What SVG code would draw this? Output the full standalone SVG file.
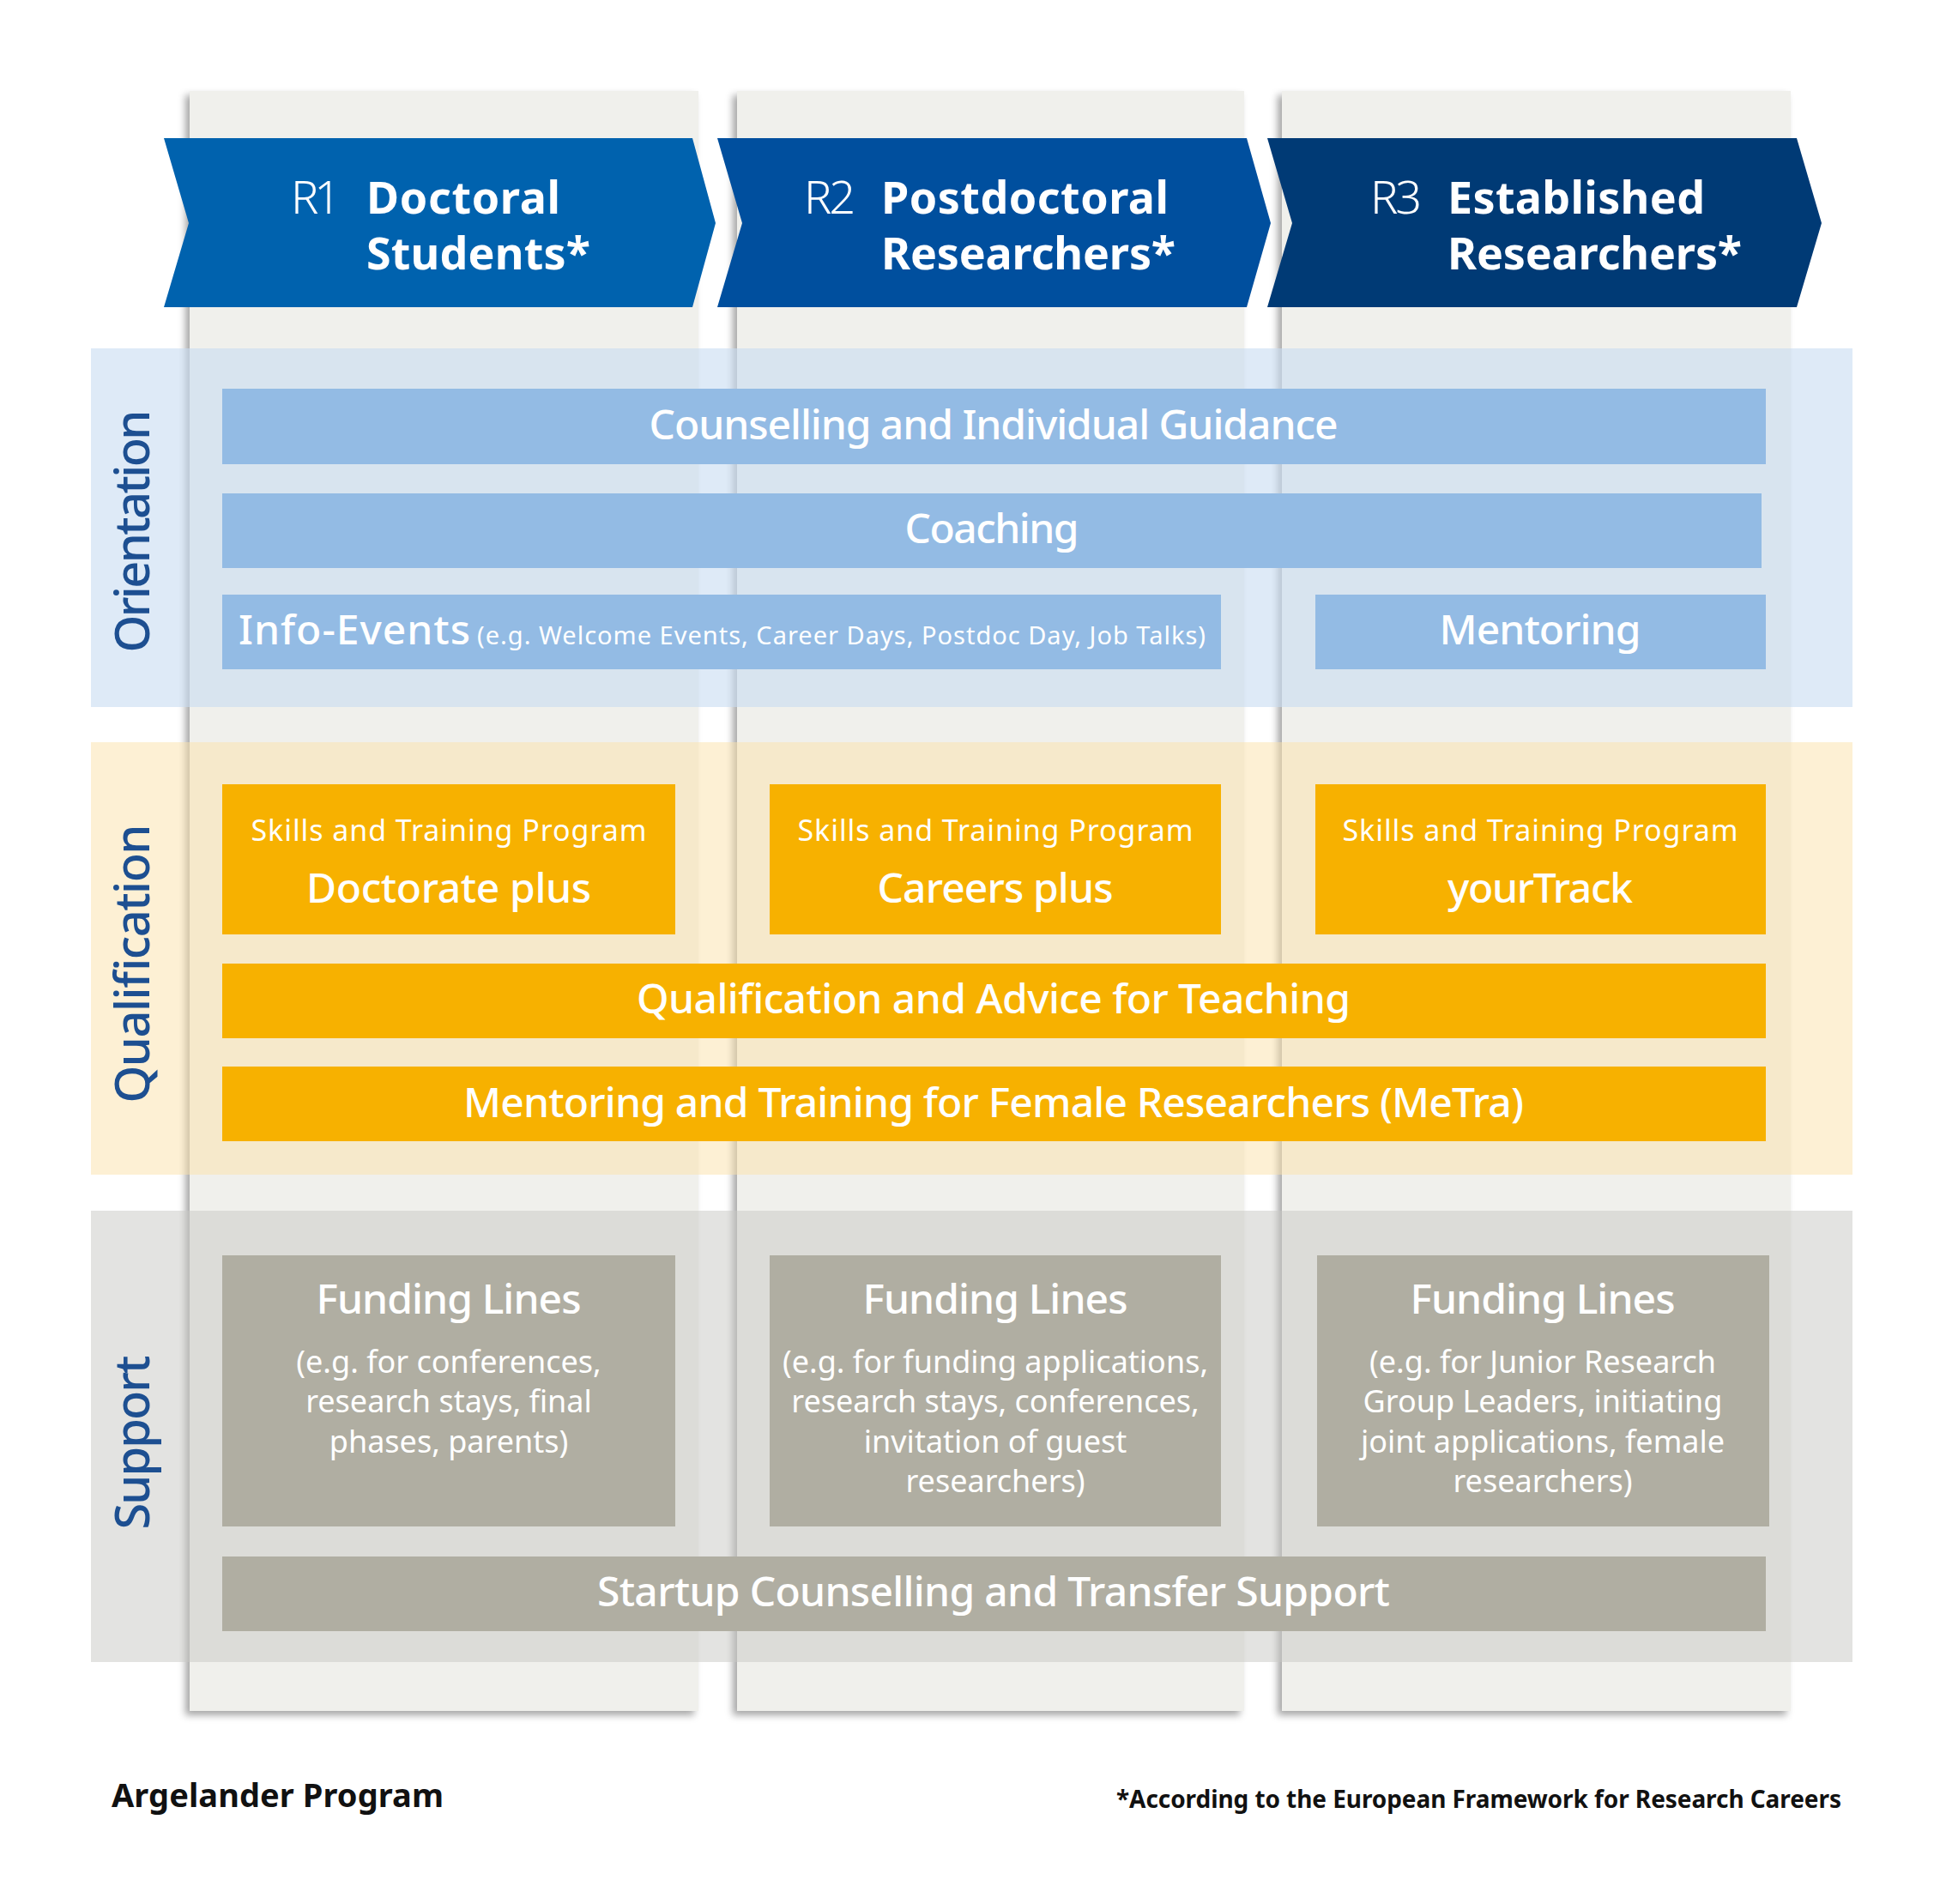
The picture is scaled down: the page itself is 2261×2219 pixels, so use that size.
<svg xmlns="http://www.w3.org/2000/svg" width="2261" height="2219" viewBox="0 0 2261 2219">
<defs>
<filter id="sh" x="-10%" y="-5%" width="120%" height="110%"><feDropShadow dx="-5" dy="5" stdDeviation="4" flood-color="#000" flood-opacity="0.35"/></filter>
</defs>
<style>
text{font-family:"Noto Sans","Open Sans","Liberation Sans",sans-serif;fill:#fff;}
.col{fill:#f0f0ec;filter:url(#sh);}
.hb{font-weight:bold;font-size:52px;}
.hl{font-size:54px;font-weight:300;}
.blue{fill:#93bbe4;}
.org{fill:#f7b100;}
.gry{fill:#b0aea2;}
.big{font-size:48px;font-weight:500;text-anchor:middle;}
.sm{font-size:34px;text-anchor:middle;}
.body{font-size:36px;text-anchor:middle;}
.side{font-size:56px;font-weight:500;fill:#1d4f91;text-anchor:middle;}
.foot{fill:#111;font-weight:bold;}
</style>
<rect width="2261" height="2219" fill="#fff"/>
<g id="columns">
<rect class="col" x="221" y="106" width="593" height="1888"/>
<rect class="col" x="859" y="106" width="591" height="1888"/>
<rect class="col" x="1494" y="106" width="593" height="1888"/>
</g>
<g id="header-r1">
<polygon points="191,161 807,161 834,260 807,358 191,358 220,260" fill="#0062ae"/>
<text class="hl" x="339" y="249" textLength="58">R1</text>
<text class="hb" x="427" y="249" textLength="226">Doctoral</text>
<text class="hb" x="427" y="314" textLength="261">Students*</text>
</g>
<g id="header-r2">
<polygon points="836,161 1453,161 1481,260 1453,358 836,358 865,260" fill="#004f9e"/>
<text class="hl" x="937" y="249" textLength="60">R2</text>
<text class="hb" x="1027" y="249" textLength="335">Postdoctoral</text>
<text class="hb" x="1027" y="314" textLength="343">Researchers*</text>
</g>
<g id="header-r3">
<polygon points="1477,161 2094,161 2123,260 2094,358 1477,358 1506,260" fill="#003a75"/>
<text class="hl" x="1597" y="249" textLength="60">R3</text>
<text class="hb" x="1687" y="249" textLength="300">Established</text>
<text class="hb" x="1687" y="314" textLength="343">Researchers*</text>
</g>
<g id="bands">
<rect x="106" y="406" width="2053" height="418" fill="rgb(200,220,242)" opacity="0.6"/>
<rect x="106" y="865" width="2053" height="504" fill="rgb(252,225,170)" opacity="0.5"/>
<rect x="106" y="1411" width="2053" height="526" fill="rgb(200,200,195)" opacity="0.5"/>
</g>
<g id="labels">
<text class="side" transform="translate(174,619) rotate(-90)" textLength="283">Orientation</text>
<text class="side" transform="translate(174,1123) rotate(-90)" textLength="325">Qualification</text>
<text class="side" transform="translate(174,1681) rotate(-90)" textLength="203">Support</text>
</g>
<g id="counselling"><rect class="blue" x="259" y="453" width="1799" height="88"/><text class="big" x="1158" y="512" textLength="803">Counselling and Individual Guidance</text></g>
<g id="coaching"><rect class="blue" x="259" y="575" width="1794" height="87"/><text class="big" x="1156" y="633" textLength="203">Coaching</text></g>
<g id="info-events"><rect class="blue" x="259" y="693" width="1164" height="87"/>
<text x="278" y="751" style="font-size:48px;font-weight:500" textLength="270">Info-Events</text>
<text x="556" y="751" style="font-size:29px" textLength="849">(e.g. Welcome Events, Career Days, Postdoc Day, Job Talks)</text></g>
<g id="mentoring"><rect class="blue" x="1533" y="693" width="525" height="87"/><text class="big" x="1795" y="751" textLength="235">Mentoring</text></g>
<g id="doctorate-plus"><rect class="org" x="259" y="914" width="528" height="175"/><text class="sm" x="523" y="980" textLength="461">Skills and Training Program</text><text class="big" x="523" y="1052" textLength="332">Doctorate plus</text></g>
<g id="careers-plus"><rect class="org" x="897" y="914" width="526" height="175"/><text class="sm" x="1160" y="980" textLength="461">Skills and Training Program</text><text class="big" x="1160" y="1052" textLength="275">Careers plus</text></g>
<g id="yourtrack"><rect class="org" x="1533" y="914" width="525" height="175"/><text class="sm" x="1795" y="980" textLength="461">Skills and Training Program</text><text class="big" x="1795" y="1052" textLength="216">yourTrack</text></g>
<g id="teaching"><rect class="org" x="259" y="1123" width="1799" height="87"/><text class="big" x="1158" y="1181" textLength="832">Qualification and Advice for Teaching</text></g>
<g id="metra"><rect class="org" x="259" y="1243" width="1799" height="87"/><text class="big" x="1158" y="1302" textLength="1236">Mentoring and Training for Female Researchers (MeTra)</text></g>
<g id="funding-r1"><rect class="gry" x="259" y="1463" width="528" height="316"/>
<text class="big" x="523" y="1531" textLength="309">Funding Lines</text>
<text class="body" x="523" y="1600">(e.g. for conferences,</text>
<text class="body" x="523" y="1646">research stays, final</text>
<text class="body" x="523" y="1693">phases, parents)</text></g>
<g id="funding-r2"><rect class="gry" x="897" y="1463" width="526" height="316"/>
<text class="big" x="1160" y="1531" textLength="309">Funding Lines</text>
<text class="body" x="1160" y="1600">(e.g. for funding applications,</text>
<text class="body" x="1160" y="1646">research stays, conferences,</text>
<text class="body" x="1160" y="1693">invitation of guest</text>
<text class="body" x="1160" y="1739">researchers)</text></g>
<g id="funding-r3"><rect class="gry" x="1535" y="1463" width="527" height="316"/>
<text class="big" x="1798" y="1531" textLength="309">Funding Lines</text>
<text class="body" x="1798" y="1600">(e.g. for Junior Research</text>
<text class="body" x="1798" y="1646">Group Leaders, initiating</text>
<text class="body" x="1798" y="1693">joint applications, female</text>
<text class="body" x="1798" y="1739">researchers)</text></g>
<g id="startup"><rect class="gry" x="259" y="1814" width="1799" height="87"/><text class="big" x="1158" y="1872" textLength="924">Startup Counselling and Transfer Support</text></g>
<g id="footer">
<text class="foot" x="130" y="2106" style="font-size:38px" textLength="387">Argelander Program</text>
<text class="foot" x="2146" y="2107" style="font-size:28px;text-anchor:end" textLength="845">*According to the European Framework for Research Careers</text>
</g>
</svg>
